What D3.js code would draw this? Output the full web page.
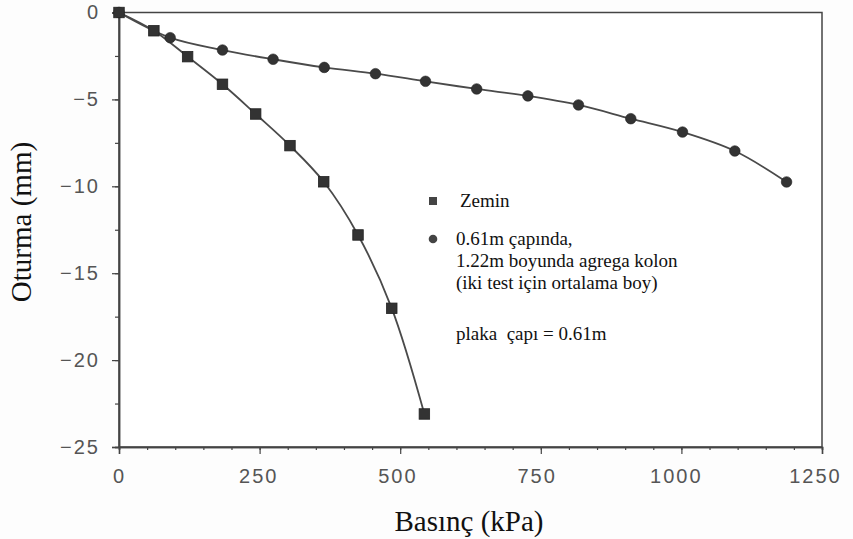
<!DOCTYPE html>
<html>
<head>
<meta charset="utf-8">
<script src="https://cdn.jsdelivr.net/npm/d3@7"></script>
<style>
  html, body { margin: 0; padding: 0; background: #fdfdfd; }
  svg { display: block; }
</style>
</head>
<body>
<svg id="chart" width="853" height="539"></svg>
<script>
// ---- data ----
const soilPressure   = [0, 62, 122, 184, 243, 304, 364, 425, 485, 543];
const soilSettlement = [0, -1.05, -2.54, -4.13, -5.84, -7.66, -9.74, -12.80, -17.02, -23.10];

const columnPressure   = [0, 91, 184, 274, 365, 456, 545, 636, 727, 817, 910, 1002, 1095, 1187];
const columnSettlement = [0, -1.45, -2.16, -2.69, -3.16, -3.52, -3.96, -4.40, -4.80, -5.32, -6.11, -6.88, -7.97, -9.75];

const xTicks = [0, 250, 500, 750, 1000, 1250];
const yTicks = [0, -5, -10, -15, -20, -25];

const xTitle = "Basınç (kPa)";
const yTitle = "Oturma (mm)";
const legendSoil = "Zemin";
const legendColumn = ["0.61m çapında,", "1.22m boyunda agrega kolon", "(iki test için ortalama boy)"];
const noteText = "plaka  çapı = 0.61m";

// ---- layout ----
const svg = d3.select("#chart");
const pLeft = 119, pRight = 822, pTop = 12.5, pBottom = 447;

const x = d3.scaleLinear().domain([0, 1250]).range([pLeft, pRight]);
const y = d3.scaleLinear().domain([-25, 0]).range([pBottom, pTop]);

const axisColor = "#444";
const tickTextColor = "#555";

// plot frame
svg.append("rect")
  .attr("x", pLeft).attr("y", pTop)
  .attr("width", pRight - pLeft).attr("height", pBottom - pTop)
  .attr("fill", "#fff").attr("stroke", axisColor).attr("stroke-width", 1.5);

// x axis
const xMinor = d3.range(0, 1251, 50);
svg.append("g").attr("transform", `translate(0,${pBottom})`)
  .call(d3.axisBottom(x).tickValues(xMinor).tickSize(3).tickFormat(""));
const xMaj = svg.append("g").attr("transform", `translate(0,${pBottom})`)
  .call(d3.axisBottom(x).tickValues(xTicks).tickSize(7).tickPadding(15).tickFormat(d3.format("d")));
xMaj.selectAll(".tick text").attr("dx", d => -d / 250 * 1.4);

// y axis
const yMinor = d3.range(-25, 0.1, 2.5);
svg.append("g").attr("transform", `translate(${pLeft},0)`)
  .call(d3.axisLeft(y).tickValues(yMinor).tickSize(4).tickFormat(""));
svg.append("g").attr("transform", `translate(${pLeft},0)`)
  .call(d3.axisLeft(y).tickValues(yTicks).tickSize(7).tickPadding(12).tickFormat(d3.format("d")));

svg.selectAll("g .domain").attr("stroke", axisColor).attr("stroke-width", 1.5);
svg.selectAll("g .tick line").attr("stroke", axisColor).attr("stroke-width", 1.2);
svg.selectAll("g .tick text")
  .attr("fill", tickTextColor)
  .style("font-family", "'Liberation Sans', Arial, sans-serif")
  .style("font-size", "20px")
  .style("letter-spacing", "2px");

// titles
svg.append("text")
  .attr("x", 469).attr("y", 531)
  .attr("text-anchor", "middle")
  .style("font-family", "'Liberation Serif', 'Times New Roman', serif")
  .style("font-size", "29px")
  .attr("fill", "#111")
  .text(xTitle);

svg.append("text")
  .attr("transform", "translate(31,222) rotate(-90)")
  .attr("text-anchor", "middle")
  .style("font-family", "'Liberation Serif', 'Times New Roman', serif")
  .style("font-size", "29px")
  .attr("fill", "#111")
  .text(yTitle);

// lines
const lineColor = "#4a4a4a";
const markerColor = "#333";
const line = d3.line().x(d => x(d[0])).y(d => y(d[1])).curve(d3.curveCatmullRom.alpha(0.5));

const soil = soilPressure.map((p, i) => [p, soilSettlement[i]]);
const column = columnPressure.map((p, i) => [p, columnSettlement[i]]);

svg.append("path").datum(column).attr("d", line)
  .attr("fill", "none").attr("stroke", lineColor).attr("stroke-width", 1.8);
svg.append("path").datum(soil).attr("d", line)
  .attr("fill", "none").attr("stroke", lineColor).attr("stroke-width", 1.8);

svg.append("g").selectAll("circle").data(column).join("circle")
  .attr("cx", d => x(d[0])).attr("cy", d => y(d[1])).attr("r", 5.3)
  .attr("fill", markerColor).attr("stroke", "#222").attr("stroke-width", 0.6);

const sq = 10.5;
svg.append("g").selectAll("rect").data(soil).join("rect")
  .attr("x", d => x(d[0]) - sq / 2).attr("y", d => y(d[1]) - sq / 2)
  .attr("width", sq).attr("height", sq)
  .attr("fill", markerColor).attr("stroke", "#222").attr("stroke-width", 0.8);

// legend
const legFont = "'Liberation Serif', 'Times New Roman', serif";
svg.append("rect").attr("x", 429).attr("y", 197).attr("width", 8).attr("height", 8).attr("fill", "#444");
svg.append("text").attr("x", 460).attr("y", 207)
  .style("font-family", legFont).style("font-size", "19px").attr("fill", "#111").text(legendSoil);

svg.append("circle").attr("cx", 433).attr("cy", 239).attr("r", 4.3).attr("fill", "#444");
legendColumn.forEach((t, i) => {
  svg.append("text").attr("x", 456).attr("y", 245 + i * 22)
    .style("font-family", legFont).style("font-size", "19px").attr("fill", "#111").text(t);
});

svg.append("text").attr("x", 456).attr("y", 340)
  .style("font-family", legFont).style("font-size", "19px").attr("fill", "#111")
  .style("white-space", "pre").attr("xml:space", "preserve").text(noteText);
</script>
</body>
</html>
